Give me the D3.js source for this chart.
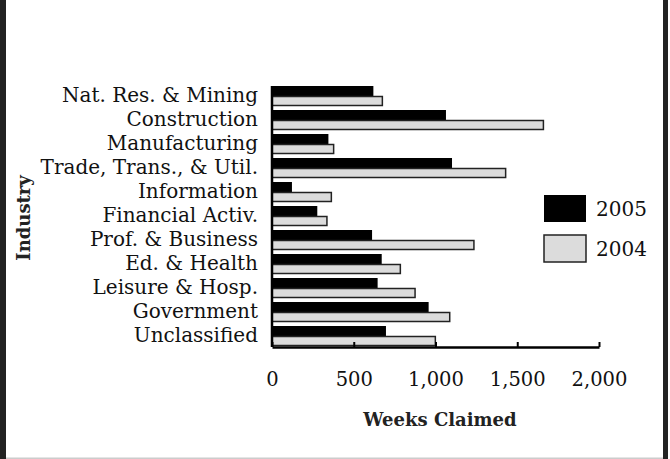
<!DOCTYPE html>
<html>
<head>
<meta charset="utf-8">
<script src="https://cdn.jsdelivr.net/npm/d3@7"></script>
<style>
  body { margin: 0; background: #fff; }
  svg { display: block; font-family: "DejaVu Serif", serif; }
</style>
</head>
<body>
<div id="chart"></div>
<script>
// weeks claimed by industry
const industries = [
  'Nat. Res. & Mining', 'Construction', 'Manufacturing', 'Trade, Trans., & Util.',
  'Information', 'Financial Activ.', 'Prof. & Business', 'Ed. & Health',
  'Leisure & Hosp.', 'Government', 'Unclassified'
];
const years = ['2005', '2004'];
const weeks2005 = [620, 1064, 345, 1101, 122, 277, 612, 671, 646, 958, 697];
const weeks2004 = [675, 1660, 377, 1429, 363, 336, 1235, 785, 875, 1087, 999];
const xTicks = [0, 500, 1000, 1500, 2000];

const width = 670;
const height = 459;
const yearFill = { 2005: '#000', 2004: '#dcdcdc' };

const rows = industries.map((name, i) => ({ name, 2005: weeks2005[i], 2004: weeks2004[i] }));

const svg = d3.select('#chart').append('svg')
  .attr('width', width)
  .attr('height', height);

// frame
svg.append('rect').attr('x', 0).attr('y', 0).attr('width', 6).attr('height', height).attr('fill', '#222');
svg.append('rect').attr('x', 663).attr('y', 0).attr('width', 5).attr('height', height).attr('fill', '#222');
svg.append('rect').attr('x', 6).attr('y', 457.5).attr('width', 657).attr('height', 1.5).attr('fill', '#ccc');

const x = d3.scaleLinear().domain([0, 2000]).range([272, 599]);
const y = d3.scaleBand().domain(industries).range([84, 348])
  .paddingInner(4 / 24).paddingOuter(1 / 12);
const ySub = d3.scaleBand().domain(years).range([0, y.bandwidth()]);

const groups = svg.append('g').selectAll('g')
  .data(rows)
  .enter()
  .append('g')
  .attr('transform', d => `translate(0,${y(d.name)})`);

groups.selectAll('rect')
  .data(d => years.map(yr => ({ yr, v: d[yr] })))
  .enter()
  .append('rect')
  .attr('x', x(0))
  .attr('y', d => ySub(d.yr) + (d.yr === '2004' ? 0.5 : 0))
  .attr('width', d => x(d.v) - x(0))
  .attr('height', d => ySub.bandwidth() - (d.yr === '2004' ? 1 : 0))
  .attr('fill', d => yearFill[d.yr])
  .attr('stroke', d => (d.yr === '2004' ? '#222' : 'none'))
  .attr('stroke-width', 1.5);

// x axis
const xAxis = svg.append('g')
  .attr('transform', `translate(0,${347})`)
  .call(d3.axisBottom(x)
    .tickValues(xTicks)
    .tickFormat(d3.format(','))
    .tickSizeInner(-5)
    .tickSizeOuter(0)
    .tickPadding(25));
xAxis.select('.domain').attr('stroke', '#000').attr('stroke-width', 2.5);
xAxis.selectAll('.tick line').attr('stroke', '#000').attr('stroke-width', 2);
xAxis.selectAll('.tick text')
  .attr('font-family', '"DejaVu Serif", serif')
  .attr('font-size', 19.5)
  .attr('fill', '#111');

// y axis
const yAxis = svg.append('g')
  .attr('transform', `translate(${x(0)},0)`)
  .call(d3.axisLeft(y).tickSize(0).tickPadding(14));
yAxis.select('.domain').attr('stroke', '#000').attr('stroke-width', 2.5)
  .attr('d', `M0,${y.range()[0] + 2}V347`);
yAxis.selectAll('.tick text')
  .attr('font-family', '"DejaVu Serif", serif')
  .attr('font-size', 20)
  .attr('fill', '#111');

// axis titles
svg.append('text')
  .attr('x', 440)
  .attr('y', 426)
  .attr('text-anchor', 'middle')
  .attr('font-weight', 'bold')
  .attr('font-size', 18)
  .attr('fill', '#222')
  .text('Weeks Claimed');

svg.append('text')
  .attr('transform', 'translate(30,218) rotate(-90)')
  .attr('text-anchor', 'middle')
  .attr('font-weight', 'bold')
  .attr('font-size', 18)
  .attr('fill', '#222')
  .text('Industry');

// legend
const legend = svg.append('g').selectAll('g')
  .data(years)
  .enter()
  .append('g')
  .attr('transform', (d, i) => `translate(544,${195 + i * 40})`);

legend.append('rect')
  .attr('width', 42)
  .attr('height', 27)
  .attr('fill', d => yearFill[d])
  .attr('stroke', d => (d === '2004' ? '#222' : 'none'))
  .attr('stroke-width', 1.5);

legend.append('text')
  .attr('x', 52)
  .attr('y', 21)
  .attr('font-size', 20)
  .attr('fill', '#111')
  .text(d => d);
</script>
</body>
</html>
